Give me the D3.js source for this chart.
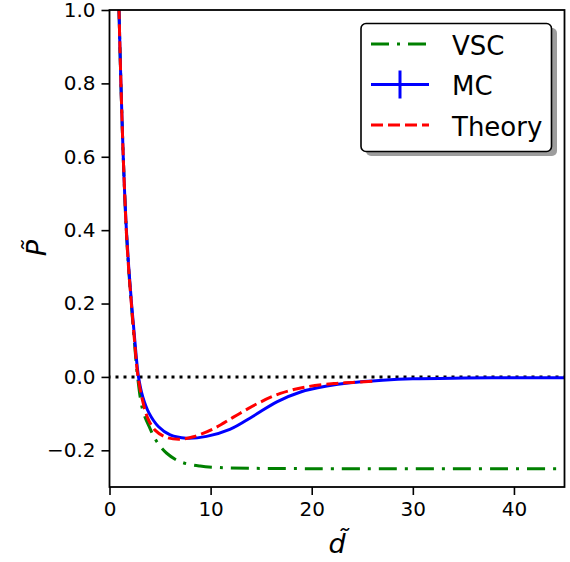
<!DOCTYPE html>
<html>
<head>
<meta charset="utf-8">
<script src="https://cdn.jsdelivr.net/npm/d3@7"></script>
<style>
  html, body { margin: 0; padding: 0; background: #fff; }
  svg { display: block; }
  text { font-family: "DejaVu Sans", sans-serif; fill: #000; }
</style>
</head>
<body>
<svg id="chart" width="570" height="562"></svg>
<script>
// Pressure profile P~ versus separation d~ for three models.
const vscD = [0.85, 0.94, 1.03, 1.13, 1.24, 1.36, 1.50, 1.66, 1.88, 2.15, 2.45, 2.78, 3.3, 4.0, 4.67, 5.66, 6.98, 8.96, 10.9, 13.9, 20, 30, 45];
const vscP = [1.1, 1.0, 0.9, 0.8, 0.7, 0.6, 0.5, 0.4, 0.3, 0.2, 0.1, 0.0, -0.092, -0.14, -0.176, -0.208, -0.231, -0.243, -0.247, -0.249, -0.25, -0.25, -0.25];

const mcD = [0.85, 0.94, 1.03, 1.13, 1.24, 1.36, 1.50, 1.67, 1.90, 2.18, 2.50, 2.87, 3.3, 3.9, 4.83, 6.0, 7.6, 9.6, 11.9, 14.2, 16.55, 18.9, 21.5, 23.8, 27, 30, 35, 40, 45];
const mcP = [1.1, 1.0, 0.9, 0.8, 0.7, 0.6, 0.5, 0.4, 0.3, 0.2, 0.1, 0.0, -0.055, -0.098, -0.135, -0.158, -0.167, -0.162, -0.143, -0.107, -0.068, -0.041, -0.025, -0.016, -0.009, -0.005, -0.003, -0.002, -0.002];

const theoryD = [0.85, 0.94, 1.03, 1.13, 1.24, 1.36, 1.50, 1.66, 1.88, 2.16, 2.47, 2.82, 3.25, 3.75, 4.5, 5.66, 6.98, 8.3, 10.3, 12.3, 14.6, 16.9, 19.5, 22.2, 24, 26];
const theoryP = [1.1, 1.0, 0.9, 0.8, 0.7, 0.6, 0.5, 0.4, 0.3, 0.2, 0.1, 0.0, -0.062, -0.110, -0.145, -0.165, -0.170, -0.163, -0.141, -0.109, -0.073, -0.045, -0.027, -0.018, -0.015, -0.012];

const xTicks = [0, 10, 20, 30, 40];
const yTicks = [-0.2, 0.0, 0.2, 0.4, 0.6, 0.8, 1.0];
const legendLabels = ["VSC", "MC", "Theory"];

const svg = d3.select("#chart");
const x = d3.scaleLinear().domain([0, 45]).range([109.5, 564.5]);
const y = d3.scaleLinear().domain([-0.3, 1.0]).range([487, 10]);

const fmt = v => d3.format(".1f")(v).replace("-", "\u2212");

svg.append("defs").append("clipPath").attr("id", "plotClip")
  .append("rect")
  .attr("x", x(0)).attr("y", y(1.0))
  .attr("width", x(45) - x(0)).attr("height", y(-0.3) - y(1.0));

const plot = svg.append("g").attr("clip-path", "url(#plotClip)");

// zero reference line
plot.append("line")
  .attr("x1", x(0)).attr("x2", x(45))
  .attr("y1", y(0)).attr("y2", y(0))
  .attr("stroke", "#000").attr("stroke-width", 3)
  .attr("stroke-dasharray", "3,5").attr("stroke-dashoffset", -6);

const line = d3.line().x(d => x(d[0])).y(d => y(d[1])).curve(d3.curveCatmullRom.alpha(0.5));
const zip = (a, b) => a.map((v, i) => [v, b[i]]);

const dashVSC = "18,8,3,8";
const dashTheory = "12,5";

plot.append("path").datum(zip(vscD, vscP))
  .attr("d", line).attr("fill", "none")
  .attr("stroke", "#008000").attr("stroke-width", 3)
  .attr("stroke-dasharray", dashVSC);

plot.append("path").datum(zip(mcD, mcP))
  .attr("d", line).attr("fill", "none")
  .attr("stroke", "#0000ff").attr("stroke-width", 3);

plot.append("path").datum(zip(theoryD, theoryP))
  .attr("d", line).attr("fill", "none")
  .attr("stroke", "#ff0000").attr("stroke-width", 3)
  .attr("stroke-dasharray", dashTheory);

// axes frame
svg.append("rect")
  .attr("x", x(0)).attr("y", y(1.0))
  .attr("width", x(45) - x(0)).attr("height", y(-0.3) - y(1.0))
  .attr("fill", "none").attr("stroke", "#000").attr("stroke-width", 1.8);

const xAxis = d3.axisBottom(x).tickValues(xTicks).tickSize(8).tickPadding(7).tickFormat(d3.format("d"));
const gx = svg.append("g").attr("transform", `translate(0,${y(-0.3)})`).call(xAxis);
gx.select(".domain").remove();
gx.selectAll(".tick line").attr("stroke", "#000").attr("stroke-width", 1.6);
gx.selectAll(".tick text").attr("font-size", 20).attr("font-family", "DejaVu Sans").attr("fill", "#000");

const yAxis = d3.axisLeft(y).tickValues(yTicks).tickSize(8).tickPadding(6).tickFormat(fmt);
const gy = svg.append("g").attr("transform", `translate(${x(0)},0)`).call(yAxis);
gy.select(".domain").remove();
gy.selectAll(".tick line").attr("stroke", "#000").attr("stroke-width", 1.6);
gy.selectAll(".tick text").attr("font-size", 20).attr("font-family", "DejaVu Sans").attr("fill", "#000");

// axis titles
svg.append("text")
  .attr("x", 337).attr("y", 553)
  .attr("text-anchor", "middle")
  .attr("font-size", 27).attr("font-style", "italic")
  .text("d\u0303");

svg.append("text")
  .attr("transform", "translate(46,248) rotate(-90)")
  .attr("text-anchor", "middle")
  .attr("font-size", 27).attr("font-style", "italic")
  .text("P\u0303");

// legend
const lg = svg.append("g");
lg.append("rect").attr("x", 366).attr("y", 28).attr("width", 191).attr("height", 128)
  .attr("rx", 5).attr("fill", "#8c8c8c").attr("opacity", 0.85);
lg.append("rect").attr("x", 361).attr("y", 23.5).attr("width", 190.5).attr("height", 128)
  .attr("rx", 5).attr("fill", "#fff").attr("stroke", "#000").attr("stroke-width", 1.6);

const rowY = [44, 84.5, 125];
const styles = [
  { stroke: "#008000", dash: dashVSC },
  { stroke: "#0000ff", dash: null },
  { stroke: "#ff0000", dash: dashTheory }
];
legendLabels.forEach((lab, i) => {
  const l = lg.append("line")
    .attr("x1", 371).attr("x2", 429).attr("y1", rowY[i]).attr("y2", rowY[i])
    .attr("stroke", styles[i].stroke).attr("stroke-width", 3);
  if (styles[i].dash) l.attr("stroke-dasharray", styles[i].dash);
  lg.append("text").attr("x", 452).attr("y", rowY[i] + 10.5)
    .attr("font-size", 26).text(lab);
});
lg.append("line").attr("x1", 400).attr("x2", 400).attr("y1", 70.5).attr("y2", 98.5)
  .attr("stroke", "#0000ff").attr("stroke-width", 3);
</script>
</body>
</html>
